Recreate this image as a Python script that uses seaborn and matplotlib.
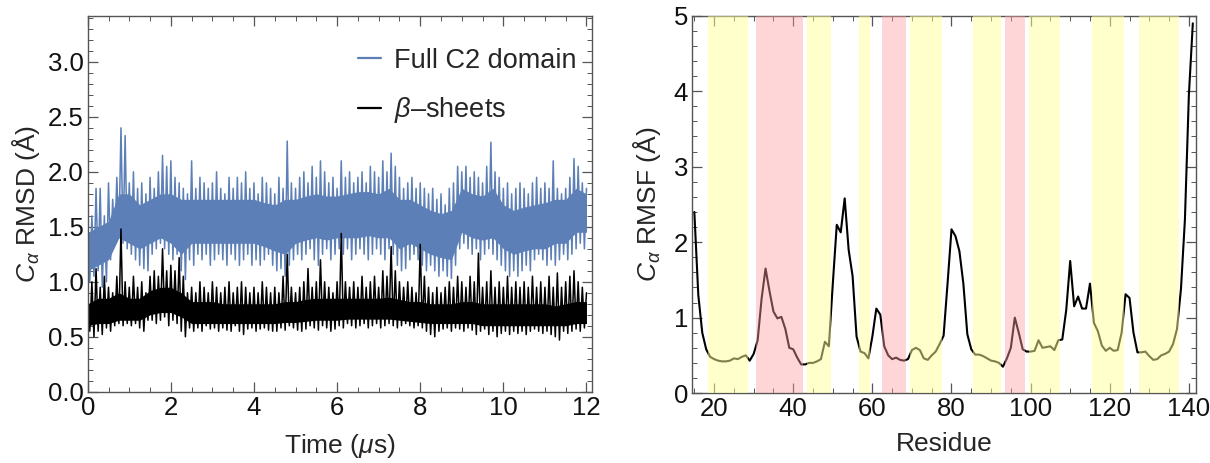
import numpy as np
import pandas as pd
import matplotlib
matplotlib.use("Agg")
import matplotlib.pyplot as plt
from matplotlib.lines import Line2D
from matplotlib.ticker import MultipleLocator, FormatStrFormatter
import seaborn as sns

# ---------------- data: left panel (RMSD time series) ----------------
# local maxima / minima read every 0.1 us
time_us = np.round(np.arange(0, 121) * 0.1, 2)          # 0.0 ... 12.0 us
full_hi = [1.55, 1.60, 1.85, 1.85, 1.60, 1.90, 1.75, 1.95, 2.40, 2.33,
           1.90, 2.00, 1.85, 1.90, 1.80, 1.95, 1.85, 2.00, 2.15, 2.05,
           2.10, 1.95, 1.90, 1.85, 1.80, 2.10, 1.85, 1.95, 1.90, 1.85,
           1.90, 2.00, 1.85, 1.80, 1.95, 1.85, 1.95, 1.90, 2.00, 1.85,
           1.90, 1.80, 1.95, 1.90, 1.85, 1.80, 1.95, 1.85, 2.28, 1.90,
           1.85, 1.95, 2.00, 1.90, 2.05, 1.95, 2.10, 2.00, 1.90, 1.95,
           1.85, 2.10, 1.95, 2.00, 1.90, 1.95, 2.00, 1.90, 2.05, 2.00,
           1.95, 2.10, 2.00, 2.17, 2.05, 1.95, 1.85, 1.90, 1.95, 1.85,
           1.90, 1.85, 1.80, 1.85, 1.75, 1.80, 1.70, 1.85, 1.90, 2.05,
           2.00, 2.05, 1.95, 2.00, 1.95, 1.90, 2.05, 2.27, 2.00, 1.95,
           1.85, 1.90, 1.80, 1.85, 1.90, 1.85, 1.80, 1.90, 1.95, 1.85,
           1.90, 1.85, 2.10, 1.85, 1.80, 1.85, 1.95, 2.12, 2.05, 1.90,
           1.85]
full_lo = [1.00, 1.05, 1.10, 0.95, 1.00, 1.20, 1.35, 1.40, 1.35, 1.30,
           1.25, 1.20, 1.15, 1.12, 1.10, 1.25, 1.30, 1.35, 1.30, 1.25,
           1.20, 1.25, 1.10, 1.02, 1.20, 1.15, 1.25, 1.20, 1.25, 1.15,
           1.20, 1.25, 1.20, 1.15, 1.25, 1.20, 1.15, 1.20, 1.25, 1.15,
           1.20, 1.15, 1.20, 1.25, 1.15, 1.10, 1.12, 1.05, 1.15, 1.20,
           1.25, 1.20, 1.25, 1.30, 1.20, 1.15, 1.25, 1.30, 1.20, 1.25,
           1.30, 1.25, 1.30, 1.20, 1.25, 1.30, 1.25, 1.20, 1.25, 1.30,
           1.25, 1.20, 1.30, 1.25, 1.15, 1.10, 1.12, 1.20, 1.25, 1.20,
           1.15, 1.10, 1.15, 1.10, 1.05, 1.10, 1.05, 1.03, 1.15, 1.30,
           1.35, 1.30, 1.25, 1.30, 1.20, 1.25, 1.30, 1.25, 1.20, 1.15,
           1.10, 1.05, 1.10, 1.05, 1.10, 1.15, 1.10, 1.20, 1.25, 1.20,
           1.15, 1.20, 1.15, 1.20, 1.25, 1.20, 1.25, 1.30, 1.35, 1.30]
beta_hi = [0.85, 1.00, 1.12, 0.95, 1.05, 0.95, 0.90, 1.05, 1.48, 1.00,
           0.95, 1.05, 0.95, 1.00, 0.90, 1.05, 1.10, 1.05, 1.30, 1.10,
           1.15, 1.10, 1.22, 1.05, 0.90, 0.95, 0.90, 1.00, 0.95, 0.90,
           1.00, 0.95, 0.90, 0.95, 1.00, 0.90, 0.95, 1.00, 0.95, 0.90,
           0.95, 0.90, 1.00, 0.95, 0.90, 0.95, 0.90, 1.05, 1.25, 0.95,
           0.90, 0.95, 1.00, 1.12, 0.95, 1.00, 1.20, 1.00, 0.95, 0.90,
           1.00, 1.44, 1.00, 0.95, 1.00, 0.95, 1.05, 0.95, 1.00, 1.05,
           0.95, 1.10, 1.05, 1.32, 1.10, 1.00, 0.95, 1.00, 0.95, 0.90,
           1.34, 1.05, 0.95, 0.90, 0.95, 0.90, 0.95, 1.00, 0.95, 1.05,
           1.00, 0.95, 1.05, 1.00, 1.26, 0.95, 1.00, 1.10, 0.95, 1.00,
           0.95, 1.05, 0.95, 1.00, 0.95, 1.00, 0.95, 1.05, 0.95, 1.00,
           0.95, 1.05, 0.95, 1.08, 0.95, 1.00, 1.05, 1.10, 1.00, 0.95,
           0.90]
beta_lo = [0.55, 0.50, 0.55, 0.52, 0.58, 0.55, 0.60, 0.62, 0.60, 0.62,
           0.60, 0.62, 0.58, 0.55, 0.65, 0.65, 0.62, 0.65, 0.68, 0.60,
           0.65, 0.62, 0.55, 0.50, 0.58, 0.55, 0.58, 0.55, 0.60, 0.57,
           0.58, 0.55, 0.58, 0.56, 0.55, 0.60, 0.55, 0.52, 0.57, 0.58,
           0.55, 0.57, 0.58, 0.56, 0.55, 0.55, 0.58, 0.56, 0.60, 0.58,
           0.56, 0.55, 0.57, 0.60, 0.58, 0.56, 0.60, 0.58, 0.55, 0.57,
           0.60, 0.58, 0.62, 0.60, 0.58, 0.60, 0.62, 0.58, 0.60, 0.62,
           0.58, 0.60, 0.62, 0.60, 0.58, 0.60, 0.62, 0.60, 0.58, 0.60,
           0.58, 0.55, 0.52, 0.50, 0.55, 0.57, 0.58, 0.55, 0.58, 0.57,
           0.55, 0.58, 0.56, 0.52, 0.55, 0.57, 0.52, 0.55, 0.50, 0.53,
           0.55, 0.52, 0.55, 0.53, 0.55, 0.52, 0.55, 0.57, 0.55, 0.53,
           0.55, 0.52, 0.50, 0.47, 0.55, 0.53, 0.55, 0.57, 0.55, 0.58]
# dense core of each trace, read every 0.25 us
core_time = np.round(np.arange(0, 49) * 0.25, 2)
full_core_hi = [1.45, 1.50, 1.55, 1.80, 1.80, 1.70, 1.75, 1.80, 1.80, 1.75,
                1.75, 1.75, 1.75, 1.75, 1.75, 1.75, 1.75, 1.72, 1.70, 1.75,
                1.75, 1.78, 1.80, 1.78, 1.78, 1.80, 1.82, 1.82, 1.80, 1.85,
                1.75, 1.75, 1.70, 1.65, 1.62, 1.65, 1.85, 1.80, 1.78, 1.85,
                1.70, 1.65, 1.68, 1.70, 1.72, 1.75, 1.75, 1.85, 1.80]
full_core_lo = [1.10, 1.15, 1.20, 1.40, 1.35, 1.30, 1.35, 1.40, 1.35, 1.25,
                1.35, 1.35, 1.35, 1.35, 1.35, 1.35, 1.35, 1.32, 1.28, 1.25,
                1.35, 1.38, 1.40, 1.38, 1.40, 1.40, 1.40, 1.42, 1.40, 1.40,
                1.30, 1.35, 1.30, 1.25, 1.22, 1.20, 1.45, 1.40, 1.38, 1.40,
                1.30, 1.25, 1.28, 1.30, 1.30, 1.35, 1.35, 1.45, 1.45]
beta_core_hi = [0.80, 0.85, 0.85, 0.90, 0.85, 0.85, 0.92, 0.95, 0.95, 0.90,
                0.82, 0.82, 0.82, 0.80, 0.80, 0.80, 0.80, 0.80, 0.80, 0.82,
                0.82, 0.84, 0.85, 0.85, 0.85, 0.85, 0.85, 0.85, 0.85, 0.86,
                0.84, 0.82, 0.82, 0.80, 0.80, 0.80, 0.82, 0.82, 0.80, 0.80,
                0.80, 0.80, 0.80, 0.80, 0.80, 0.78, 0.80, 0.82, 0.82]
beta_core_lo = [0.60, 0.62, 0.62, 0.65, 0.65, 0.65, 0.70, 0.72, 0.72, 0.68,
                0.62, 0.62, 0.62, 0.62, 0.62, 0.62, 0.62, 0.62, 0.62, 0.63,
                0.63, 0.64, 0.65, 0.65, 0.65, 0.66, 0.66, 0.66, 0.66, 0.66,
                0.65, 0.64, 0.63, 0.62, 0.62, 0.62, 0.62, 0.62, 0.60, 0.60,
                0.60, 0.60, 0.60, 0.60, 0.60, 0.60, 0.60, 0.62, 0.62]
start_value = 0.0
series_labels = ["Full C2 domain", "$\\beta$\u2013sheets"]

# ---------------- data: right panel (RMSF per residue) ----------------
residues = list(range(15, 142))
rmsf = [2.40, 1.30, 0.80, 0.58, 0.48, 0.45, 0.43, 0.42, 0.42, 0.43,   # 15-24
        0.46, 0.45, 0.48, 0.50, 0.43, 0.52, 0.70, 1.25, 1.65, 1.35,   # 25-34
        1.08, 0.99, 1.01, 0.85, 0.60, 0.58, 0.47, 0.38, 0.38, 0.40,   # 35-44
        0.40, 0.42, 0.45, 0.68, 0.62, 1.45, 2.23, 2.13, 2.58, 1.90,   # 45-54
        1.55, 0.75, 0.55, 0.53, 0.46, 0.75, 1.12, 1.04, 0.62, 0.50,   # 55-64
        0.45, 0.47, 0.44, 0.43, 0.45, 0.57, 0.60, 0.57, 0.46, 0.44,   # 65-74
        0.50, 0.55, 0.65, 0.76, 1.45, 2.17, 2.08, 1.88, 1.45, 0.78,   # 75-84
        0.58, 0.51, 0.51, 0.49, 0.46, 0.43, 0.42, 0.40, 0.35, 0.46,   # 85-94
        0.60, 1.00, 0.80, 0.58, 0.55, 0.55, 0.56, 0.70, 0.60, 0.61,   # 95-104
        0.62, 0.57, 0.70, 0.71, 1.10, 1.75, 1.15, 1.28, 1.12, 1.12,   # 105-114
        1.45, 0.93, 0.82, 0.63, 0.56, 0.60, 0.56, 0.57, 0.80, 1.31,   # 115-124
        1.26, 0.80, 0.54, 0.54, 0.55, 0.49, 0.44, 0.45, 0.50, 0.52,   # 125-134
        0.55, 0.65, 0.85, 1.38, 2.30, 3.95, 4.90]                    # 135-141
yellow_regions = [(18.5, 28.5), (43.5, 49.5), (56.5, 59.5), (69.5, 77.5),
                  (85.5, 92.5), (99.5, 107.5), (115.5, 123.5), (127.5, 137.5)]
pink_regions = [(30.5, 42.5), (62.5, 68.5), (93.5, 98.5)]

# ---------------- style ----------------
sns.set_theme(style="white")
plt.rcParams["font.family"] = ["Liberation Sans", "DejaVu Sans"]
plt.rcParams["mathtext.fontset"] = "custom"
plt.rcParams["mathtext.rm"] = "Liberation Sans"
plt.rcParams["mathtext.it"] = "Liberation Sans:italic"
plt.rcParams["mathtext.bf"] = "Liberation Sans:bold"

BLUE = "#5b7fb6"
FRAME = "#555555"
TICK_FS = 18.5
LABEL_FS = 19

fig = plt.figure(figsize=(12.10, 4.63), dpi=100)
axL = fig.add_axes([0.0725, 0.154, 0.417, 0.812])
axR = fig.add_axes([0.5722, 0.151, 0.4159, 0.815])


def zigzag(times, hi, lo, start):
    t = [0.0]
    v = [start]
    for i, tt in enumerate(times):
        t.append(tt)
        v.append(hi[i])
        if i < len(lo):
            t.append(tt + 0.05)
            v.append(lo[i])
    return pd.DataFrame({"t": t, "v": v})


for hi, lo, chi, clo, col in [(full_hi, full_lo, full_core_hi, full_core_lo, BLUE),
                              (beta_hi, beta_lo, beta_core_hi, beta_core_lo, "black")]:
    axL.fill_between(core_time, clo, chi, color=col, lw=0, zorder=2)
    df = zigzag(time_us, hi, lo, start_value)
    sns.lineplot(data=df, x="t", y="v", ax=axL, color=col, lw=1.1,
                 sort=False, estimator=None, zorder=2)

df_r = pd.DataFrame({"res": residues, "rmsf": rmsf})
sns.lineplot(data=df_r, x="res", y="rmsf", ax=axR, color="black", lw=1.5,
             sort=False, estimator=None, zorder=2)
for a, b in yellow_regions:
    axR.axvspan(a, b, color=(1.0, 1.0, 0.6), alpha=0.5, lw=0, zorder=3)
for a, b in pink_regions:
    axR.axvspan(a, b, color=(1.0, 0.62, 0.64), alpha=0.42, lw=0, zorder=3)


def frame(ax, xmaj, xmin, ymaj, ymin):
    for s in ax.spines.values():
        s.set_visible(True)
        s.set_color(FRAME)
        s.set_linewidth(1.0)
    ax.xaxis.set_major_locator(MultipleLocator(xmaj))
    ax.xaxis.set_minor_locator(MultipleLocator(xmin))
    ax.yaxis.set_major_locator(MultipleLocator(ymaj))
    ax.yaxis.set_minor_locator(MultipleLocator(ymin))
    ax.tick_params(which="both", direction="in", top=True, right=True,
                   bottom=True, left=True, color=FRAME, labelsize=TICK_FS,
                   labelcolor="#111111")
    ax.tick_params(which="major", length=7, width=0.9, pad=3)
    ax.tick_params(which="minor", length=3.5, width=0.7)
    ax.grid(False)


axL.set_xlim(0, 12.14)
axL.set_ylim(0, 3.42)
frame(axL, 2, 0.5, 0.5, 0.1)
axL.yaxis.set_major_formatter(FormatStrFormatter("%.1f"))
axL.set_xlabel("Time ($\\mu$s)", fontsize=LABEL_FS, labelpad=9)
axL.set_ylabel("$C_{\\alpha}$ RMSD (Å)", fontsize=LABEL_FS, labelpad=4)

handles = [Line2D([0], [0], color=BLUE, lw=1.6),
           Line2D([0], [0], color="black", lw=1.6)]
axL.legend(handles, series_labels, loc="center left",
           bbox_to_anchor=(0.536, 0.812), frameon=False, fontsize=19.5,
           handlelength=0.85, handletextpad=0.48, labelspacing=0.78,
           borderaxespad=0, borderpad=0)

axR.set_xlim(14.5, 141.7)
axR.set_ylim(0, 5)
frame(axR, 20, 5, 1, 0.2)
axR.set_xlabel("Residue", fontsize=LABEL_FS, labelpad=8)
axR.set_ylabel("$C_{\\alpha}$ RMSF (Å)", fontsize=LABEL_FS, labelpad=8)

fig.savefig("out.png", dpi=100)
